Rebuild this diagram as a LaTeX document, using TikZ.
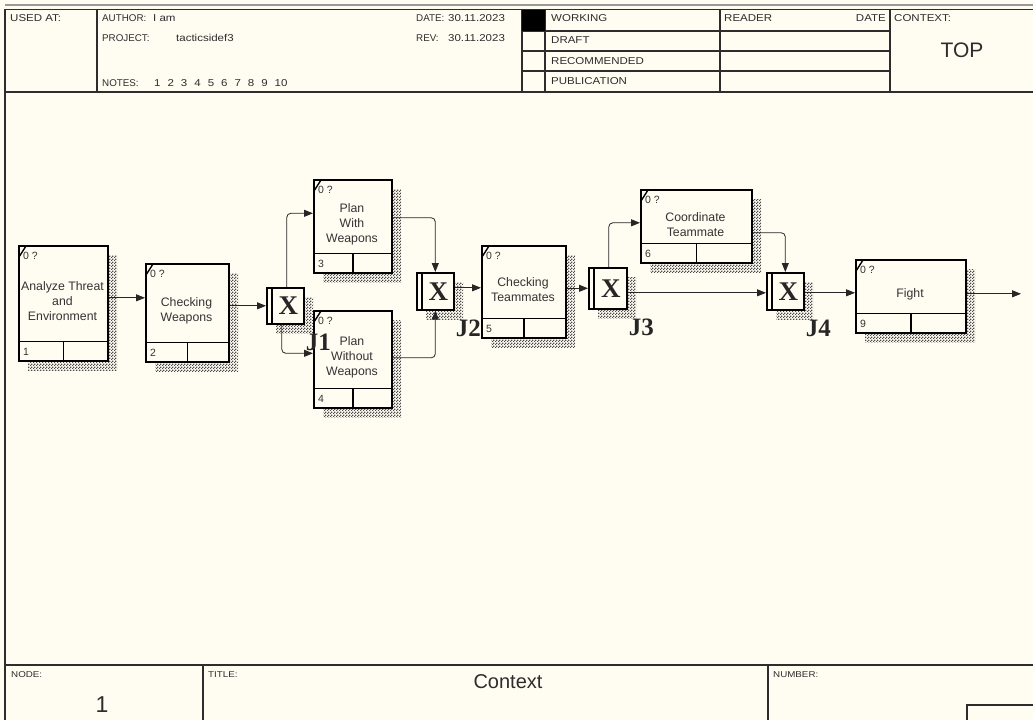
\documentclass[tikz,border=0pt]{standalone}
\usepackage{fontspec}
\setmainfont{Liberation Sans}
\newfontfamily\hdr{Liberation Sans}[FakeStretch=1.15]
\newfontfamily\jfont{Liberation Serif}
\usetikzlibrary{arrows.meta,patterns,calc}
\definecolor{bg}{RGB}{255,252,242}
\definecolor{ink}{RGB}{45,45,45}
\pgfdeclarepatternformonly{idefchecker}{\pgfpointorigin}{\pgfpoint{3pt}{3pt}}{\pgfpoint{3pt}{3pt}}{%
  \pgfpathrectangle{\pgfpointorigin}{\pgfpoint{1.5pt}{1.5pt}}%
  \pgfpathrectangle{\pgfpoint{1.5pt}{1.5pt}}{\pgfpoint{1.5pt}{1.5pt}}%
  \pgfusepath{fill}}
\tikzset{
  frameline/.style={draw=ink, line width=1.4pt},
  cellline/.style={draw=ink, line width=1.1pt},
  hdrlabel/.style={font=\fontsize{9.8}{12}\selectfont, text=ink, inner sep=0pt, anchor=base west},
  hdrtext/.style={font=\hdr\fontsize{10}{12}\selectfont, text=ink, inner sep=0pt, anchor=base west},
  smalllbl/.style={font=\hdr\fontsize{8.5}{10}\selectfont, text=ink, inner sep=0pt, anchor=base west},
  actbox/.style={draw=black, line width=1.6pt, fill=bg, inner sep=0pt, anchor=north west},
  shadowfill/.style={pattern=idefchecker, pattern color=black!70},
  acttext/.style={font=\fontsize{12.3}{15}\selectfont, text=black!80, align=center, inner sep=0pt},
  cornertext/.style={font=\fontsize{10.5}{11}\selectfont, text=black!80, inner sep=0pt, anchor=west},
  jbox/.style={draw=black, line width=1.6pt, fill=bg, inner sep=0pt, anchor=north west},
  jx/.style={font=\jfont\bfseries\fontsize{27}{27}\selectfont, text=black!85, inner sep=0pt},
  jlbl/.style={font=\jfont\bfseries\fontsize{25}{25}\selectfont, text=black!85, inner sep=0pt, anchor=base west},
  arr/.style={draw=black!85, line width=0.8pt, -{Triangle[length=9pt,width=7pt]}, rounded corners=4pt},
}
\newcommand\actbox[7]{%
  \fill[shadowfill] (#2+10,#3+10) rectangle ++(#4,#5);
  \node[actbox, minimum width=#4pt, minimum height=#5pt] (#1) at (#2,#3) {};
  \draw[line width=1.6pt] ([yshift=20pt]#1.south west) -- ([yshift=20pt]#1.south east);
  \draw[line width=1.6pt] (#1.south) -- ([yshift=20pt]#1.south);
  \draw[line width=1.4pt] ($(#1.north west)+(1,12)$) -- ($(#1.north west)+(8,1)$);
  \node[cornertext] (#1-c) at ($(#1.north west)+(5,11)$) {0 ?};
  \node[cornertext] (#1-n) at ($(#1.south west)+(5,-10)$) {#6};
  \node[acttext] (#1-t) at ($(#1.north west)+({#4/2},{#5/2-1})$) {#7};
}
\newcommand\jbox[6]{%
  \fill[shadowfill] (#2+10,#3+10) rectangle ++(#4,#5);
  \node[jbox, minimum width=#4pt, minimum height=#5pt] (#1) at (#2,#3) {};
  \draw[line width=1.2pt] ([xshift=6pt]#1.north west) -- ([xshift=6pt]#1.south west);
  \node[jx] (#1-x) at ([xshift=3pt]#1.center) {X};
  \node[jlbl] (#1-l) at ([xshift=1pt,yshift=-25.5pt]#1.south east) {#6};
}
\begin{document}
\begin{tikzpicture}[x=1pt,y=-1pt]
\useasboundingbox (0,0) rectangle (1033,720);
\fill[bg] (0,0) rectangle (1033,720);
% ---------- header frame ----------
\draw[draw=black!40, line width=1.2pt] (5,5) -- (1033,5);
\draw[frameline] (5,720) -- (5,9.5) -- (1033,9.5);
\draw[frameline] (5,92) -- (1033,92);
\draw[cellline] (97,9.5) -- (97,92);
\draw[cellline] (522,9.5) -- (522,92);
\draw[cellline] (545,9.5) -- (545,92);
\draw[cellline] (720,9.5) -- (720,92);
\draw[cellline] (890,9.5) -- (890,92);
\draw[cellline] (522,31) -- (890,31);
\draw[cellline] (522,51) -- (890,51);
\draw[cellline] (522,71) -- (890,71);
\fill[black] (522,9.5) rectangle (545,31);
\node[hdrtext] (usedat) at (10,21.5) {USED AT:};
\node[hdrlabel] (author) at (102,21.5) {AUTHOR:};
\node[hdrtext] (authorv) at (153,21.5) {I am};
\node[hdrlabel] (project) at (102,41) {PROJECT:};
\node[hdrtext] (projectv) at (176,41) {tacticsidef3};
\node[hdrlabel] (notes) at (102,86) {NOTES:};
\node[hdrtext] (notesv) at (154,86) {1\hspace{7pt}2\hspace{7pt}3\hspace{7pt}4\hspace{7pt}5\hspace{7pt}6\hspace{7pt}7\hspace{7pt}8\hspace{7pt}9\hspace{7pt}10};
\node[hdrlabel] (date) at (416,21.5) {DATE:};
\node[hdrtext] (datev) at (448,21.5) {30.11.2023};
\node[hdrlabel] (rev) at (416,41) {REV:};
\node[hdrtext] (revv) at (448,41) {30.11.2023};
\node[hdrtext] (working) at (551,21.5) {WORKING};
\node[hdrtext] (draft) at (551,43.5) {DRAFT};
\node[hdrtext] (recommended) at (551,64) {RECOMMENDED};
\node[hdrtext] (publication) at (551,84.5) {PUBLICATION};
\node[hdrtext] (reader) at (724,21.5) {READER};
\node[hdrtext, anchor=base east] (rdate) at (886,21.5) {DATE};
\node[hdrtext] (context) at (894,21.5) {CONTEXT:};
\node[font=\fontsize{21}{21}\selectfont, text=ink, inner sep=0pt, anchor=base] (top) at (962,57) {TOP};
% ---------- footer ----------
\draw[frameline] (5,665) -- (1033,665);
\draw[cellline] (203,665) -- (203,720);
\draw[cellline] (768,665) -- (768,720);
\draw[frameline] (967,720) -- (967,705) -- (1033,705);
\node[smalllbl] (nodelbl) at (11,677) {NODE:};
\node[font=\fontsize{23}{23}\selectfont, text=ink, inner sep=0pt, anchor=base] (nodenum) at (102,712) {1};
\node[smalllbl] (titlelbl) at (208,677) {TITLE:};
\node[font=\fontsize{20}{20}\selectfont, text=ink, inner sep=0pt, anchor=base] (title) at (508,688) {Context};
\node[smalllbl] (numberlbl) at (773,677) {NUMBER:};
% ---------- activities ----------
\actbox{b1}{18}{245}{89}{115}{1}{Analyze Threat\\and\\Environment}
\actbox{b2}{145}{263}{83}{98}{2}{Checking\\Weapons}
\actbox{b3}{313}{179}{78}{93}{3}{Plan\\With\\Weapons}
\actbox{b4}{313}{310}{78}{97}{4}{Plan\\Without\\Weapons}
\actbox{b5}{481}{245}{84}{92}{5}{Checking\\Teammates}
\actbox{b6}{640}{189}{111}{73}{6}{Coordinate\\Teammate}
\actbox{b9}{855}{259}{110}{73}{9}{Fight}
% ---------- junctions ----------
\jbox{j1}{266}{287}{37}{36}{J1}
\jbox{j2}{416}{272}{37}{37}{J2}
\jbox{j3}{588}{267}{38}{41}{J3}
\jbox{j4}{766}{272}{37}{37}{J4}
% ---------- connectors ----------
\coordinate (c12) at ([yshift=5.5pt]b1.east);
\draw[arr] (c12) -- (c12 -| b2.west);
\draw[arr] (j1.west -| b2.east) -- (j1.west);
\draw[arr] ([xshift=1.5pt]j1.north) |- ([yshift=13pt]b3.west);
\draw[arr] ([xshift=-3.5pt]j1.south) |- ([yshift=6pt]b4.west);
\draw[arr] ([yshift=8.5pt]b3.east) -| (j2.north);
\draw[arr] ([yshift=1.5pt]b4.east) -| (j2.south);
\coordinate (c25) at ([yshift=3.5pt]j2.east);
\draw[arr] (c25) -- (c25 -| b5.west);
\draw[arr] (j3.west -| b5.east) -- (j3.west);
\draw[arr] ([xshift=1pt]j3.north) |- ([yshift=3.5pt]b6.west);
\coordinate (c34) at ([yshift=-4.5pt]j3.east);
\draw[arr] (c34) -- (c34 -| j4.west);
\coordinate (c64) at ([yshift=-6.5pt]b6.east);
\draw[arr] (c64) -| (j4.north);
\coordinate (c49) at ([yshift=-1.5pt]j4.east);
\draw[arr] (c49) -- (c49 -| b9.west);
\coordinate (c9) at ([yshift=2.5pt]b9.east);
\coordinate (out) at (1021,293);
\draw[arr] (c9) -- (c9 -| out);
\end{tikzpicture}
\end{document}
